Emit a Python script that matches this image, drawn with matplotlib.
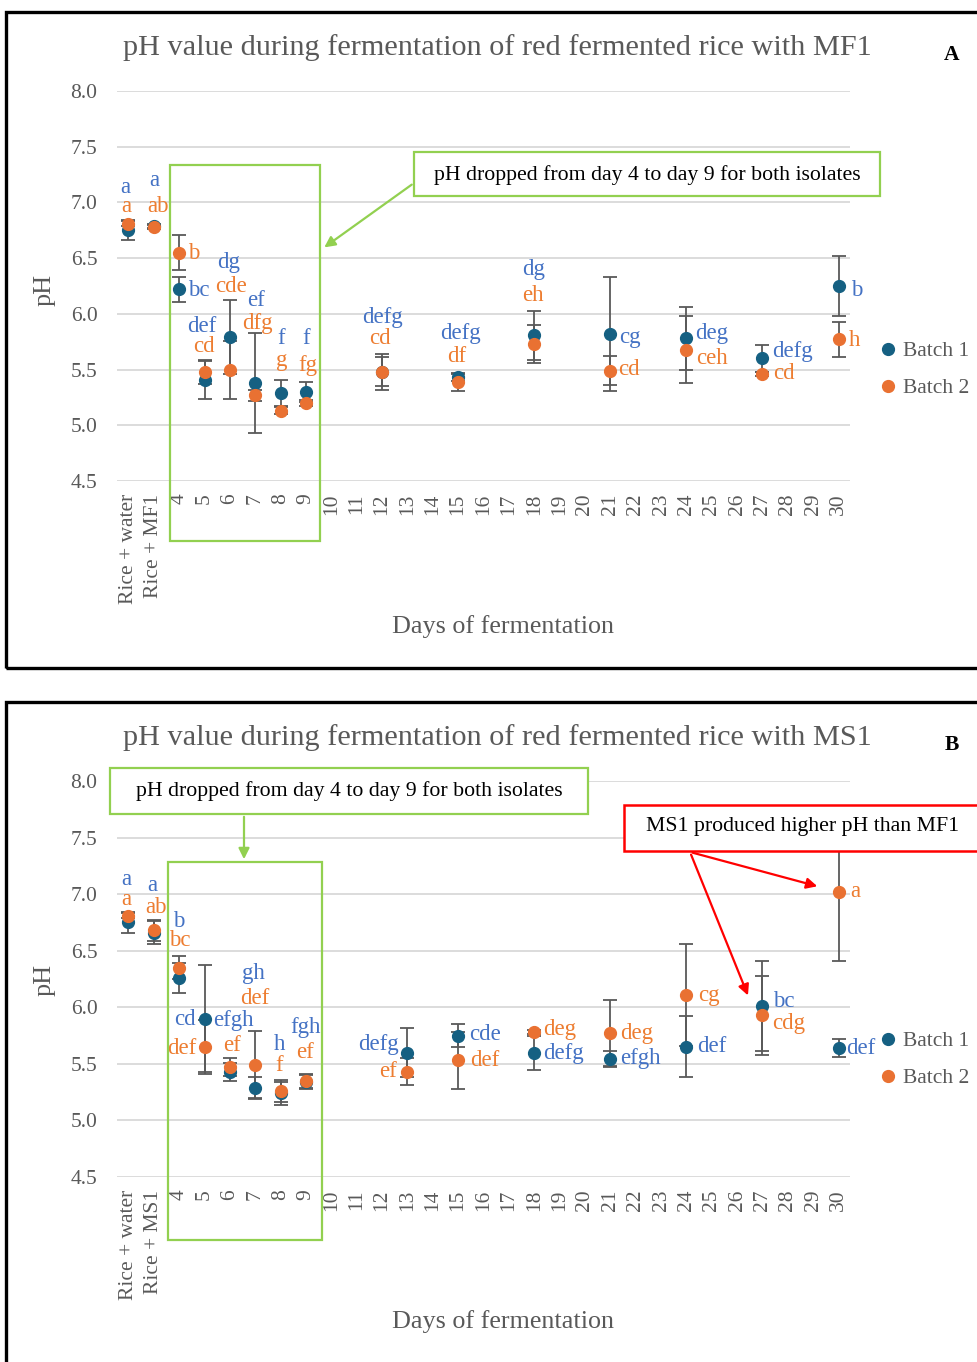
import numpy as np
import matplotlib.pyplot as plt
from matplotlib.patches import Rectangle, FancyArrowPatch

plt.rcParams['font.family'] = ['Liberation Serif', 'DejaVu Serif']

W, H = 977, 1362

# --- data ---
days = [str(d) for d in range(4, 31)]
ticks_a = ['Rice + water', 'Rice + MF1'] + days
ticks_b = ['Rice + water', 'Rice + MS1'] + days

a_cats = ['Rice + water', 'Rice + MF1', '4', '5', '6', '7', '8', '9', '12', '15', '18', '21', '24', '27', '30']
a_b1 = [6.75, 6.79, 6.22, 5.41, 5.79, 5.38, 5.29, 5.30, 5.48, 5.43, 5.81, 5.82, 5.78, 5.60, 6.25]
a_b1_sd = [0.09, 0.02, 0.11, 0.17, 0.33, 0.45, 0.12, 0.09, 0.16, 0.03, 0.22, 0.51, 0.28, 0.12, 0.27]
a_b2 = [6.81, 6.78, 6.55, 5.48, 5.50, 5.27, 5.13, 5.20, 5.48, 5.39, 5.73, 5.49, 5.68, 5.46, 5.77]
a_b2_sd = [0.02, 0.02, 0.16, 0.11, 0.26, 0.05, 0.03, 0.03, 0.13, 0.08, 0.17, 0.13, 0.30, 0.02, 0.16]
a_b1_lab = ['a', 'a', 'bc', 'def', 'dg', 'ef', 'f', 'f', 'defg', 'defg', 'dg', 'cg', 'deg', 'defg', 'b']
a_b2_lab = ['a', 'ab', 'b', 'cd', 'cde', 'dfg', 'g', 'fg', 'cd', 'df', 'eh', 'cd', 'ceh', 'cd', 'h']

b_cats = ['Rice + water', 'Rice + MS1', '4', '5', '6', '7', '8', '9', '13', '15', '18', '21', '24', '27', '30']
b_b1 = [6.75, 6.66, 6.26, 5.90, 5.43, 5.29, 5.24, 5.34, 5.60, 5.75, 5.60, 5.54, 5.65, 6.01, 5.64]
b_b1_sd = [0.09, 0.10, 0.13, 0.47, 0.08, 0.09, 0.10, 0.06, 0.22, 0.10, 0.15, 0.07, 0.27, 0.40, 0.08]
b_b2 = [6.81, 6.68, 6.35, 5.65, 5.47, 5.49, 5.26, 5.35, 5.43, 5.53, 5.78, 5.77, 6.11, 5.93, 7.02]
b_b2_sd = [0.02, 0.09, 0.10, 0.24, 0.08, 0.30, 0.10, 0.06, 0.12, 0.25, 0.02, 0.29, 0.45, 0.35, 0.61]
b_b1_lab = ['a', 'a', 'b', 'cd', 'efgh', 'gh', 'h', 'fgh', 'defg', 'cde', 'defg', 'efgh', 'def', 'bc', 'def']
b_b2_lab = ['a', 'ab', 'bc', 'def', 'ef', 'def', 'f', 'ef', 'ef', 'def', 'deg', 'deg', 'cg', 'cdg', 'a']

# label placement (pixel offsets from the marker, alignment)
a_b1_pos = [(-3, 43, 'center'), (1, 45, 'center'), (9, -1, 'left'), (-3, 53, 'center'), (-1, 75, 'center'),
            (1, 82, 'center'), (1, 54, 'center'), (0, 53, 'center'), (0, 54, 'center'), (2, 44, 'center'),
            (-1, 66, 'center'), (9, -4, 'left'), (9, 5, 'left'), (10, 7, 'left'), (12, -4, 'left')]
a_b2_pos = [(-2, 17, 'center'), (4, 20, 'center'), (9, -1, 'left'), (-1, 25, 'center'), (1, 83, 'center'),
            (2, 72, 'center'), (1, 50, 'center'), (2, 38, 'center'), (-2, 33, 'center'), (-1, 25, 'center'),
            (-1, 48, 'center'), (8, 1, 'left'), (10, -9, 'left'), (11, 1, 'left'), (10, -1, 'left')]
b_b1_pos = [(-2, 43, 'center'), (-1, 47, 'center'), (0, 56, 'center'), (-9, -1, 'right'), (4, 51, 'center'),
            (-2, 114, 'center'), (-1, 49, 'center'), (0, 54, 'center'), (-9, 8, 'right'), (11, 1, 'left'),
            (9, -1, 'left'), (10, 1, 'left'), (11, 0, 'left'), (11, 5, 'left'), (8, 0, 'left')]
b_b2_pos = [(-2, 16, 'center'), (2, 23, 'center'), (1, 27, 'center'), (-8, -2, 'right'), (2, 22, 'center'),
            (0, 66, 'center'), (-1, 26, 'center'), (-1, 28, 'center'), (-11, 0, 'right'), (12, 0, 'left'),
            (9, 3, 'left'), (10, 0, 'left'), (12, -1, 'left'), (10, -8, 'left'), (12, 0, 'left')]

c_b1, c_b2 = '#156082', '#E97132'
t_b1, t_b2 = '#4472C4', '#ED7D31'
grey = '#595959'
green = '#92D050'


def fx(x):
    return x / W


def fy(y):
    return 1 - y / H


def panel(top, bottom, ticks, cats, m1, s1, m2, s2, l1, l2, p1, p2):
    ax = fig.add_axes([fx(117), fy(bottom), (850 - 117) / W, (bottom - top) / H])
    xs = [ticks.index(c) for c in cats]
    ax.errorbar(xs, m1, yerr=s1, fmt='none', ecolor=grey, elinewidth=1.3, capsize=5, capthick=1.3, zorder=2)
    ax.errorbar(xs, m2, yerr=s2, fmt='none', ecolor=grey, elinewidth=1.3, capsize=5, capthick=1.3, zorder=2)
    ax.plot(xs, m1, 'o', ls='none', ms=8.5, color=c_b1, label='Batch 1', zorder=3)
    ax.plot(xs, m2, 'o', ls='none', ms=8.5, color=c_b2, label='Batch 2', zorder=4)
    for x, y, lab, (dx, dy, ha) in zip(xs, m1, l1, p1):
        ax.annotate(lab, (x, y), xytext=(dx, dy), textcoords='offset pixels',
                    ha=ha, va='center', color=t_b1, fontsize=16.5, zorder=5)
    for x, y, lab, (dx, dy, ha) in zip(xs, m2, l2, p2):
        ax.annotate(lab, (x, y), xytext=(dx, dy), textcoords='offset pixels',
                    ha=ha, va='center', color=t_b2, fontsize=16.5, zorder=5)
    ax.set_xlim(-0.45, 28.45)
    ax.set_ylim(4.5, 8.0)
    ax.set_yticks(np.arange(4.5, 8.01, 0.5))
    ax.set_yticklabels(['%.1f' % v for v in np.arange(4.5, 8.01, 0.5)])
    ax.set_xticks(range(len(ticks)))
    ax.set_xticklabels(ticks, rotation=90, va='top', ha='center')
    ax.tick_params(length=0, labelsize=15.5, labelcolor=grey)
    ax.tick_params(axis='x', pad=9)
    ax.tick_params(axis='y', pad=14)
    ax.yaxis.grid(True, color='#D9D9D9', lw=1.3)
    ax.set_axisbelow(True)
    for s in ax.spines.values():
        s.set_visible(False)
    ax.legend(loc='upper left', bbox_to_anchor=(fx(880), fy(top + 250)), bbox_transform=fig.transFigure,
              frameon=False, fontsize=15.5, handlelength=0.75, handletextpad=0.3, labelspacing=0.8,
              borderpad=0, borderaxespad=0, labelcolor=grey)
    return ax


def box(x0, y0, x1, y1, color, lw=1.6, fill=False):
    fig.add_artist(Rectangle((fx(x0), fy(y1)), (x1 - x0) / W, (y1 - y0) / H, transform=fig.transFigure,
                             fill=fill, facecolor='white', edgecolor=color, lw=lw, zorder=6))


def arrow(x0, y0, x1, y1, color):
    fig.add_artist(FancyArrowPatch((fx(x0), fy(y0)), (fx(x1), fy(y1)), transform=fig.transFigure,
                                   arrowstyle='-|>', mutation_scale=16, color=color, lw=1.6, zorder=7))


fig = plt.figure(figsize=(W / 100, H / 100), dpi=100)

panel(91, 481, ticks_a, a_cats, a_b1, a_b1_sd, a_b2, a_b2_sd, a_b1_lab, a_b2_lab, a_b1_pos, a_b2_pos)
panel(781, 1177, ticks_b, b_cats, b_b1, b_b1_sd, b_b2, b_b2_sd, b_b1_lab, b_b2_lab, b_b1_pos, b_b2_pos)

# panel frames
box(6, 12, 995, 668, 'black', lw=2.4)
box(6, 702, 995, 1380, 'black', lw=2.4)

# titles and axis titles
fig.text(fx(497), fy(48), 'pH value during fermentation of red fermented rice with MF1',
         ha='center', va='center', fontsize=21.8, color=grey)
fig.text(fx(497), fy(738), 'pH value during fermentation of red fermented rice with MS1',
         ha='center', va='center', fontsize=21.8, color=grey)
fig.text(fx(952), fy(55), 'A', ha='center', va='center', fontsize=15.5, fontweight='bold')
fig.text(fx(952), fy(745), 'B', ha='center', va='center', fontsize=15.5, fontweight='bold')
for yl, xl in [(290, 627), (980, 1322)]:
    fig.text(fx(45), fy(yl), 'pH', rotation=90, ha='center', va='center', fontsize=18.8, color=grey)
    fig.text(fx(503), fy(xl), 'Days of fermentation', ha='center', va='center', fontsize=18.8, color=grey)

# panel A annotations
box(170, 165, 320, 541, green)
box(414, 152, 880, 196, green, fill=True)
fig.text(fx(647), fy(175), 'pH dropped from day 4 to day 9 for both isolates',
         ha='center', va='center', fontsize=15.7, zorder=8)
arrow(414, 183, 322, 249, green)

# panel B annotations
box(168, 862, 322, 1240, green)
box(110, 768, 588, 814, green, fill=True)
fig.text(fx(349), fy(791), 'pH dropped from day 4 to day 9 for both isolates',
         ha='center', va='center', fontsize=15.7, zorder=8)
arrow(244, 814, 244, 862, green)
box(624, 805, 995, 851, '#FF0000', lw=1.8, fill=True)
fig.text(fx(803), fy(827), 'MS1 produced higher pH than MF1', ha='center', va='center', fontsize=15.7, zorder=8)
arrow(690, 852, 820, 887, '#FF0000')
arrow(690, 852, 749, 998, '#FF0000')

fig.savefig('out.png', dpi=100)
